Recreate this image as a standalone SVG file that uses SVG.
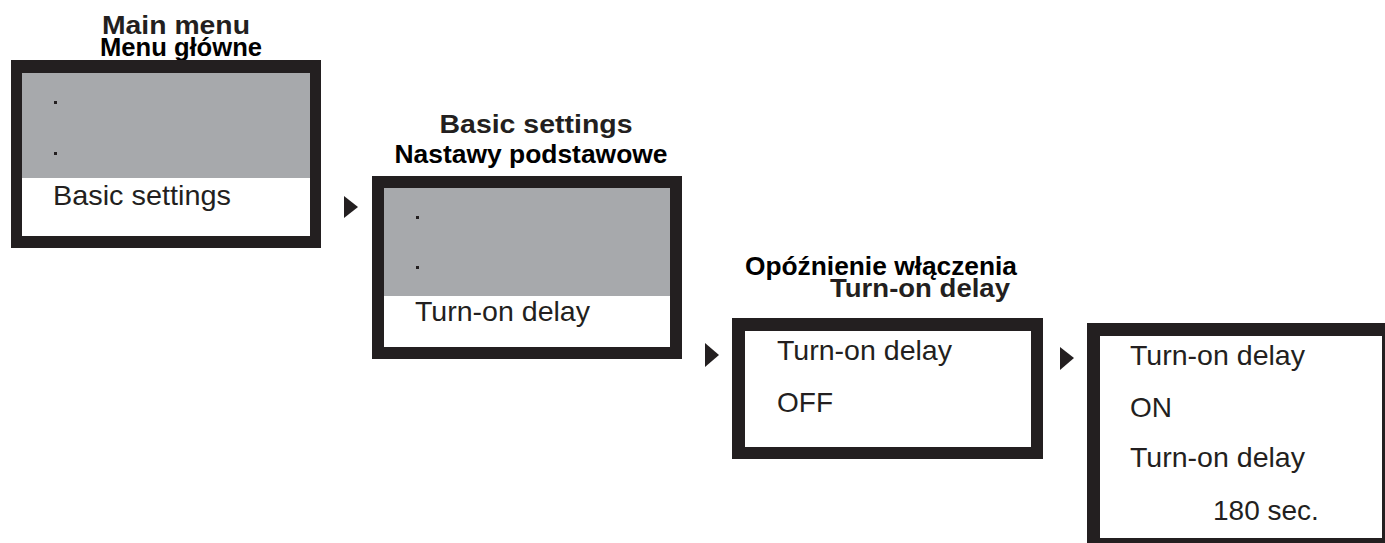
<svg xmlns="http://www.w3.org/2000/svg" width="1385" height="543" viewBox="0 0 1385 543">
  <style>
    .frame { fill: #231f20; }
    .screen { fill: #ffffff; }
    .shade { fill: #a7a9ac; }
    .item { font-family: "Liberation Sans", Arial, sans-serif; font-size: 28px; fill: #231f20; }
    .title-en { font-family: "Liberation Sans", Arial, sans-serif; font-size: 26px; font-weight: bold; fill: #231f20; }
    .title-pl { font-family: "Liberation Sans", Arial, sans-serif; font-size: 25px; font-weight: bold; fill: #000000; }
    .dot { fill: #231f20; }
    .step { fill: #231f20; }
  </style>

  <rect width="1385" height="543" fill="#ffffff"/>

  <!-- Main menu screen -->
  <g id="main-menu">
    <text class="title-en" x="176" y="34" text-anchor="middle" textLength="148" lengthAdjust="spacingAndGlyphs">Main menu</text>
    <text class="title-pl" x="181" y="56" text-anchor="middle" textLength="162" lengthAdjust="spacingAndGlyphs">Menu główne</text>
    <rect class="frame" x="11" y="60" width="310" height="188"/>
    <rect class="screen" x="22" y="73" width="288" height="163"/>
    <rect class="shade" x="22" y="73" width="288" height="105"/>
    <rect class="dot" x="54" y="101" width="3" height="3"/>
    <rect class="dot" x="54" y="152" width="3" height="3"/>
    <text class="item" x="53" y="205" textLength="178" lengthAdjust="spacingAndGlyphs">Basic settings</text>
  </g>

  <!-- Basic settings screen -->
  <g id="basic-settings">
    <text class="title-en" x="536" y="133" text-anchor="middle" textLength="193" lengthAdjust="spacingAndGlyphs">Basic settings</text>
    <text class="title-pl" x="531" y="163" text-anchor="middle" textLength="273" lengthAdjust="spacingAndGlyphs">Nastawy podstawowe</text>
    <rect class="frame" x="372" y="176" width="310" height="183"/>
    <rect class="screen" x="384" y="188" width="286" height="159"/>
    <rect class="shade" x="384" y="188" width="286" height="108"/>
    <rect class="dot" x="416" y="216" width="3" height="3"/>
    <rect class="dot" x="416" y="266" width="3" height="3"/>
    <text class="item" x="415" y="321" textLength="175" lengthAdjust="spacingAndGlyphs">Turn-on delay</text>
  </g>

  <!-- Turn-on delay: OFF screen -->
  <g id="turn-on-delay-off">
    <text class="title-pl" x="881" y="275" text-anchor="middle" textLength="272" lengthAdjust="spacingAndGlyphs">Opóźnienie włączenia</text>
    <text class="title-en" x="920" y="297" text-anchor="middle" textLength="180" lengthAdjust="spacingAndGlyphs">Turn-on delay</text>
    <rect class="frame" x="732" y="318" width="311" height="141"/>
    <rect class="screen" x="745" y="331" width="286" height="116"/>
    <text class="item" x="777" y="360" textLength="175" lengthAdjust="spacingAndGlyphs">Turn-on delay</text>
    <text class="item" x="777" y="412">OFF</text>
  </g>

  <!-- Turn-on delay: ON screen -->
  <g id="turn-on-delay-on">
    <rect class="frame" x="1087" y="323" width="300" height="230"/>
    <rect class="screen" x="1100" y="336" width="282" height="202"/>
    <text class="item" x="1130" y="365" textLength="175" lengthAdjust="spacingAndGlyphs">Turn-on delay</text>
    <text class="item" x="1130" y="417">ON</text>
    <text class="item" x="1130" y="467" textLength="175" lengthAdjust="spacingAndGlyphs">Turn-on delay</text>
    <text class="item" x="1213" y="520">180 sec.</text>
  </g>

  <!-- Step markers between screens -->
  <g id="connectors">
    <polygon class="step" points="344,196 358,207 344,218"/>
    <polygon class="step" points="705,343 719,355 705,367"/>
    <polygon class="step" points="1060,347 1074,358 1060,370"/>
  </g>
</svg>
